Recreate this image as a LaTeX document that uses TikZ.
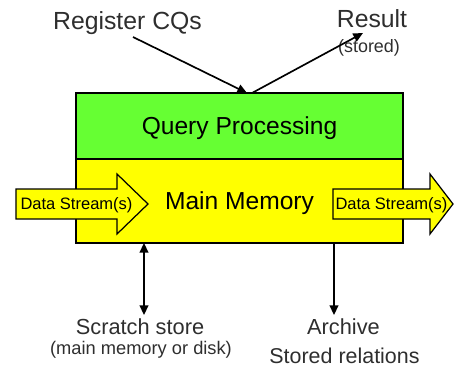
\documentclass[tikz,border=0pt]{standalone}
\usepackage{fontspec}
\setmainfont{Liberation Sans}
\usepackage{tikz}
\usetikzlibrary{arrows.meta}
\definecolor{qgreen}{HTML}{66FF33}
\definecolor{myellow}{HTML}{FFFF00}
\definecolor{label}{HTML}{2E2E2E}

\begin{document}
\begin{tikzpicture}[x=0.02cm,y=-0.02cm,
  box/.style={draw=black,line width=0.7pt,inner sep=0pt,minimum width=6.54cm,
    text depth=0pt,font=\fontsize{14}{16}\selectfont},
  lbl/.style={text=label,anchor=base,inner sep=0pt},
  stream/.style={anchor=base,inner sep=0pt,font=\fontsize{9.4}{11}\selectfont},
  link/.style={line width=0.95pt,-{Triangle[length=5.5pt,width=5pt]}},
  twoway/.style={line width=0.95pt,{Triangle[length=5.5pt,width=5pt]}-{Triangle[length=5.5pt,width=5pt]}}]
\useasboundingbox (0,0) rectangle (454,365);

% helper: block arrow from x=#1, shaft ends at #2, tip at #3, text node #4
\newcommand{\drawstream}[4]{%
  \draw[fill=myellow,line width=0.7pt] (#1,189) -- (#2,189) -- (#2,174) -- (#3,204)
    -- (#2,234) -- (#2,219) -- (#1,219) -- cycle;
  \node[stream] (#4) at ({(#1+#2)/2+10},210) {Data Stream(s)};
}

% stacked boxes
\node[box,fill=qgreen,minimum height=1.32cm] (qp) at (239.5,126) {Query Processing};
\node[box,fill=myellow,minimum height=1.68cm] (mm) at (239.5,201) {Main Memory};

% streams in and out
\drawstream{16}{117}{148}{sin}
\drawstream{333}{430}{453}{sout}

% labels around the boxes
\node[lbl,font=\fontsize{14.1}{16}\selectfont] (reg) at (127.5,30) {Register CQs};
\node[lbl,font=\fontsize{14.1}{16}\selectfont] (res) at (372,28) {Result};
\node[lbl,font=\fontsize{10.2}{12}\selectfont] (stored) at (369,52) {(stored)};
\node[lbl,font=\fontsize{12.4}{14}\selectfont] (scr) at (140,335) {Scratch store};
\node[lbl,font=\fontsize{10.4}{12}\selectfont] (scrsub) at (141,355) {(main memory or disk)};
\node[lbl,font=\fontsize{12.4}{14}\selectfont] (arc) at (343.5,335) {Archive};
\node[lbl,font=\fontsize{12.2}{14}\selectfont] (rel) at (344.5,363) {Stored relations};

% arrow ends
\coordinate (regtail) at (133,37);
\coordinate (qin) at (247,93);
\coordinate (qout) at (252,93);
\coordinate (reshead) at (363,33);
\coordinate (scrup) at (144,243);
\coordinate (scrdown) at (144,315);
\coordinate (arcup) at (334,243);
\coordinate (arcdown) at (334,315);

\draw[link] (regtail) -- (qin);
\draw[link] (qout) -- (reshead);
\draw[twoway] (scrup) -- (scrdown);
\draw[link] (arcup) -- (arcdown);
\end{tikzpicture}
\end{document}
